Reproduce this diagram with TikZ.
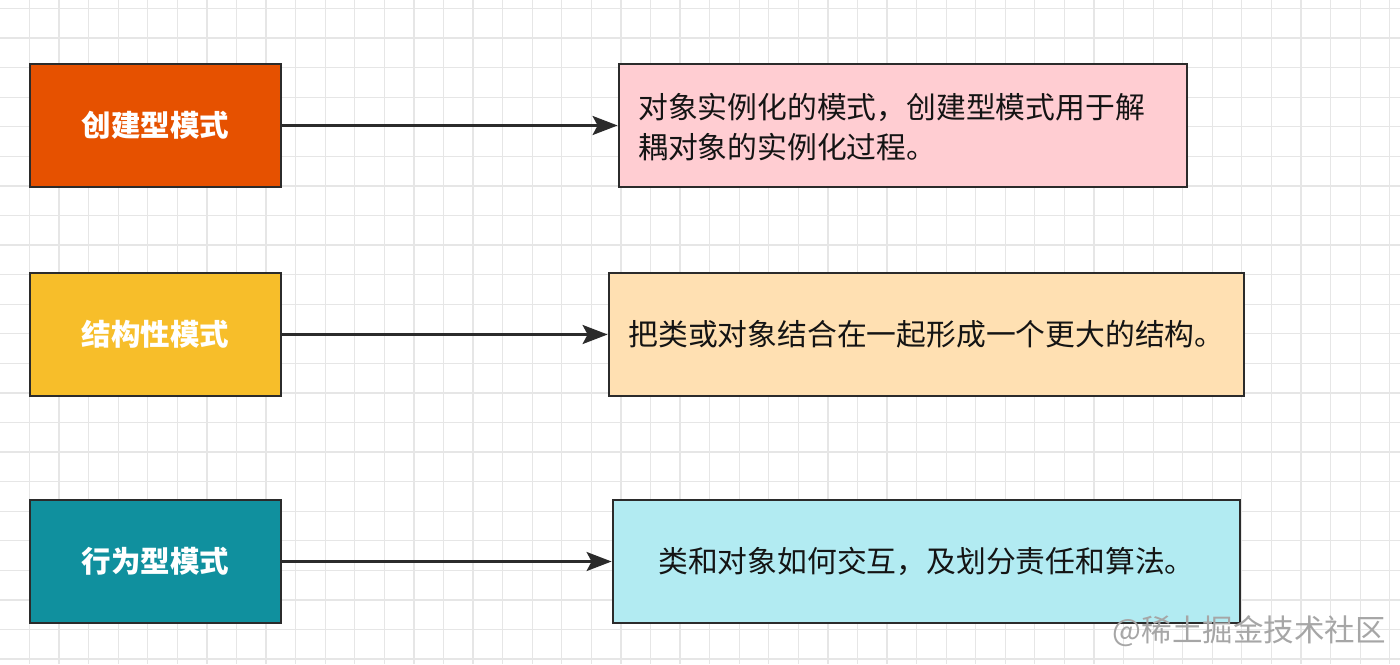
\documentclass[tikz,border=0pt]{standalone}
\usepackage{fontspec}
\newfontfamily\cjk{Noto Sans CJK SC}
\usetikzlibrary{arrows.meta}
\definecolor{gridc}{HTML}{E6E6E6}
\definecolor{orangec}{HTML}{E65100}
\definecolor{yellowc}{HTML}{F7BE2A}
\definecolor{tealc}{HTML}{10909E}
\definecolor{pinkc}{HTML}{FFCDD2}
\definecolor{peachc}{HTML}{FFE0B2}
\definecolor{cyanc}{HTML}{B2EBF2}
\definecolor{edgec}{HTML}{2B2B2B}
\tikzset{
  leftbox/.style={draw=edgec, line width=2.8pt, minimum width=251pt, minimum height=123pt, inner sep=0pt,
    text=white, font=\cjk\bfseries\fontsize{29.5}{38}\selectfont},
  rightbox/.style={draw=edgec, line width=2.8pt, inner sep=0pt, text=black!92,
    font=\cjk\fontsize{29.8}{40}\selectfont},
  conn/.style={draw=edgec, line width=2.5pt, -{Stealth[length=25pt,width=19pt,inset=5pt]}},
}
\begin{document}
\begin{tikzpicture}[x=1pt,y=-1pt]
\useasboundingbox (0,0) rectangle (1400,664);
\fill[white] (0,0) rectangle (1400,664);
\foreach \i in {0,...,47} {
  \draw[gridc, line width=1.2pt] ({29.5+\i*29.57},0) -- ({29.5+\i*29.57},664);
}
\foreach \j in {0,...,22} {
  \draw[gridc, line width=1.2pt] (0,{8.5+\j*29.57}) -- (1400,{8.5+\j*29.57});
}
% left boxes
\node[leftbox, fill=orangec] (l1) at (155.5,125.5) {创建型模式};
\node[leftbox, fill=yellowc] (l2) at (155.5,334.5) {结构性模式};
\node[leftbox, fill=tealc] (l3) at (155.5,561.5) {行为型模式};
% right boxes
\node[rightbox, fill=pinkc, minimum width=568pt, minimum height=123pt] (r1) at (903,125.5) {};
\node[anchor=west, inner sep=0pt, align=left, font=\cjk\fontsize{29.8}{40}\selectfont, text=black!92] (t1) at (638,127)
  {对象实例化的模式，创建型模式用于解\\耦对象的实例化过程。};
\node[rightbox, fill=peachc, minimum width=635pt, minimum height=123pt] (r2) at (926.5,334.5) {把类或对象结合在一起形成一个更大的结构。};
\node[rightbox, fill=cyanc, minimum width=627pt, minimum height=123pt] (r3) at (926.5,561.5) {类和对象如何交互，及划分责任和算法。};
% connectors
\draw[conn] (l1.east) -- (r1.west);
\draw[conn] (l2.east) -- (r2.west);
\draw[conn] (l3.east) -- (r3.west);
% watermark
\node[anchor=east, inner sep=0pt, text=black!35, font=\cjk\fontsize{30.5}{32}\selectfont] (wm) at (1386,631) {@稀土掘金技术社区};
\end{tikzpicture}
\end{document}
